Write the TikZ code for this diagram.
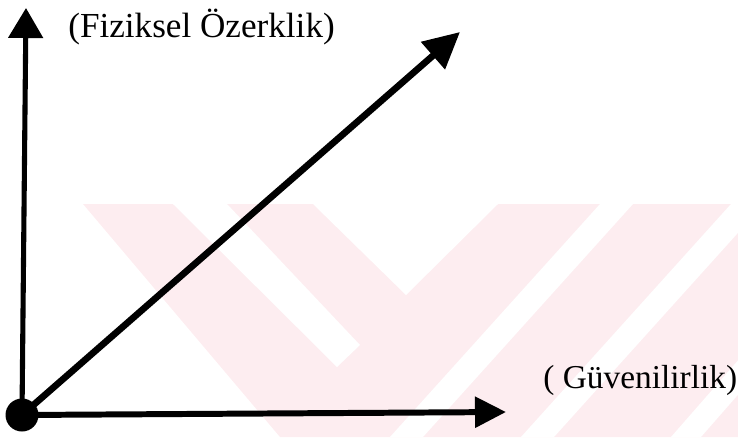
\documentclass[tikz,border=0pt]{standalone}
\usepackage{fontspec}
\setmainfont{Liberation Serif}
\usetikzlibrary{arrows.meta,positioning}
\definecolor{wmpink}{RGB}{253,237,240}
\tikzset{
  >=Stealth,
  axis/.style={line width=3.2pt,draw=black},
  dot/.style={circle,fill=black,inner sep=0pt,minimum size=0.66cm},
  lbl/.style={font=\fontsize{20}{24}\selectfont,inner sep=0pt,anchor=base west},
  wm/.style={fill=wmpink,draw=none},
  gap/.style={fill=white,draw=none}
}
\begin{document}
\begin{tikzpicture}[x=0.02cm,y=-0.02cm]
\useasboundingbox (0,0) rectangle (738,437);
% faint watermark behind
\begin{scope}
\clip (0,0) rectangle (738,437);
\fill[wm] (83,204) -- (738,204) -- (738,437) -- (280,437) -- cycle;
\fill[gap] (173,204) -- (227,204) -- (360,345) -- (337,367) -- cycle;
\fill[gap] (313,204) -- (498,204) -- (406,295) -- cycle;
\fill[gap] (600,204) -- (633,204) -- (423,437) -- (390,437) -- cycle;
\fill[gap] (731,204) -- (764,204) -- (554,437) -- (521,437) -- cycle;
\fill[gap] (741,357) -- (771,357) -- (701,437) -- (671,437) -- cycle;
\end{scope}
% axes
\node[dot] (o) at (22,415) {};
\coordinate (ytip) at (26,8);
\coordinate (xtip) at (506,412);
\coordinate (dtip) at (460,32);
\draw[axis,line width=2.9pt,-{Triangle[length=0.6cm,width=0.68cm]}] (o.center) -- (ytip);
\draw[axis,line width=3.4pt,-{Triangle[length=0.62cm,width=0.6cm]}] (o.center) -- (xtip);
\draw[axis,line width=3.8pt,-{Triangle[length=0.72cm,width=0.7cm]}] (o.center) -- (dtip);
\node[lbl] (fiz) at (68,37) {(Fiziksel Özerklik)};
\node[lbl,font=\fontsize{19}{23}\selectfont] (guv) at (543,388) {( Güvenilirlik)};
\end{tikzpicture}
\end{document}
